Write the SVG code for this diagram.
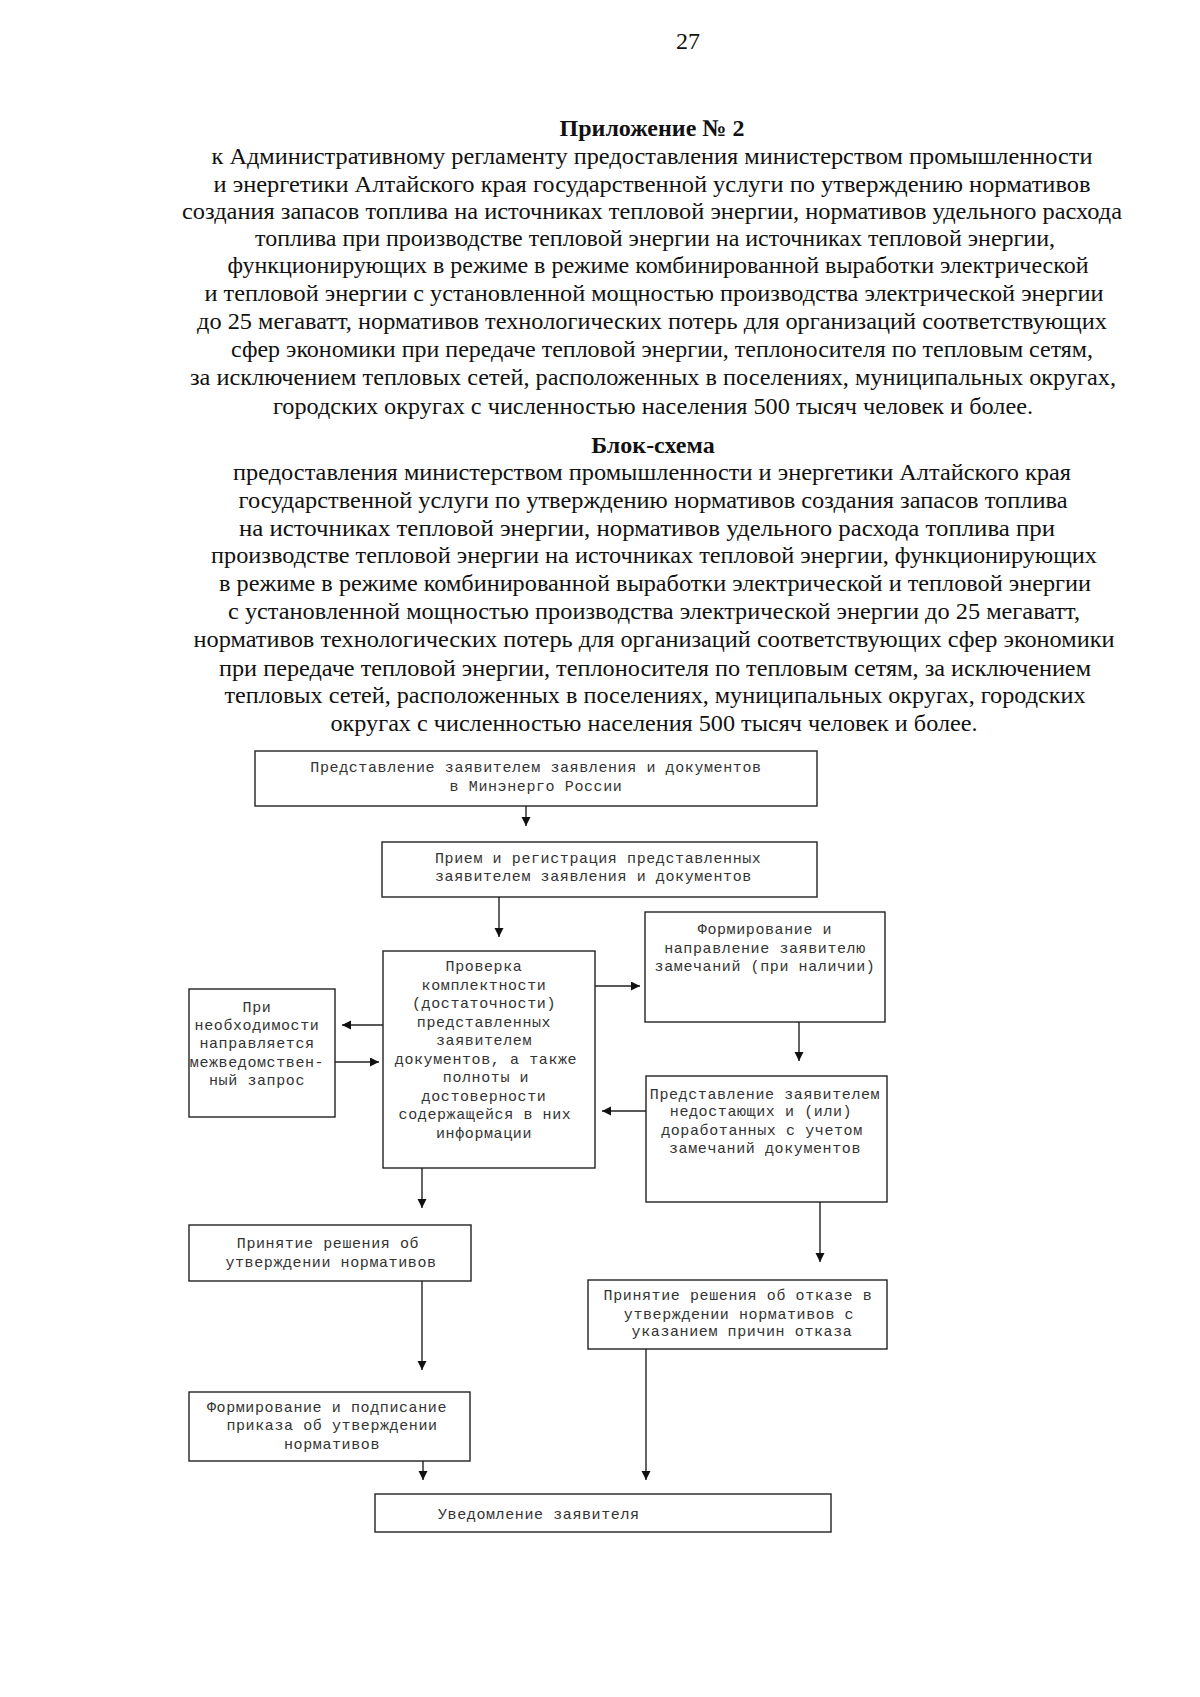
<svg xmlns="http://www.w3.org/2000/svg" width="1200" height="1697" viewBox="0 0 1200 1697">
<style>
.hd{font-family:"Liberation Serif","Times New Roman",serif;font-size:24px;fill:#111;text-anchor:middle}
.b{font-weight:bold}
.box{fill:#fff;stroke:#222;stroke-width:1.4}
.t{font-family:"Liberation Mono","Courier New",monospace;font-size:15px;letter-spacing:0.6px;fill:#333}
.c{text-anchor:middle}
.ln{stroke:#222;stroke-width:1.4;fill:none}
</style>
<defs>
<marker id="arr" markerUnits="userSpaceOnUse" markerWidth="10" markerHeight="10" refX="9" refY="4.5" orient="auto">
<path d="M0,0 L9,4.5 L0,9 Z" fill="#111"/>
</marker>
</defs>
<rect width="1200" height="1697" fill="#fff"/>
<g id="header">
<text class="hd" x="688" y="49">27</text>
<text class="hd b" x="652" y="136">Приложение № 2</text>
<text class="hd" x="652" y="164" textLength="881" lengthAdjust="spacingAndGlyphs">к Административному регламенту предоставления министерством промышленности</text>
<text class="hd" x="652" y="192" textLength="877" lengthAdjust="spacingAndGlyphs">и энергетики Алтайского края государственной услуги по утверждению нормативов</text>
<text class="hd" x="652" y="219" textLength="940" lengthAdjust="spacingAndGlyphs">создания запасов топлива на источниках тепловой энергии, нормативов удельного расхода</text>
<text class="hd" x="655" y="246" textLength="800" lengthAdjust="spacingAndGlyphs">топлива при производстве тепловой энергии на источниках тепловой энергии,</text>
<text class="hd" x="658" y="273" textLength="861" lengthAdjust="spacingAndGlyphs">функционирующих в режиме в режиме комбинированной выработки электрической</text>
<text class="hd" x="654" y="301" textLength="899" lengthAdjust="spacingAndGlyphs">и тепловой энергии с установленной мощностью производства электрической энергии</text>
<text class="hd" x="652" y="329" textLength="910" lengthAdjust="spacingAndGlyphs">до 25 мегаватт, нормативов технологических потерь для организаций соответствующих</text>
<text class="hd" x="662" y="357" textLength="862" lengthAdjust="spacingAndGlyphs">сфер экономики при передаче тепловой энергии, теплоносителя по тепловым сетям,</text>
<text class="hd" x="653" y="385" textLength="926" lengthAdjust="spacingAndGlyphs">за исключением тепловых сетей, расположенных в поселениях, муниципальных округах,</text>
<text class="hd" x="653" y="414" textLength="760" lengthAdjust="spacingAndGlyphs">городских округах с численностью населения 500 тысяч человек и более.</text>
<text class="hd b" x="653" y="453">Блок-схема</text>
<text class="hd" x="652" y="480" textLength="838" lengthAdjust="spacingAndGlyphs">предоставления министерством промышленности и энергетики Алтайского края</text>
<text class="hd" x="653" y="508" textLength="829" lengthAdjust="spacingAndGlyphs">государственной услуги по утверждению нормативов создания запасов топлива</text>
<text class="hd" x="647" y="536" textLength="816" lengthAdjust="spacingAndGlyphs">на источниках тепловой энергии, нормативов удельного расхода топлива при</text>
<text class="hd" x="654" y="563" textLength="886" lengthAdjust="spacingAndGlyphs">производстве тепловой энергии на источниках тепловой энергии, функционирующих</text>
<text class="hd" x="655" y="591" textLength="872" lengthAdjust="spacingAndGlyphs">в режиме в режиме комбинированной выработки электрической и тепловой энергии</text>
<text class="hd" x="654" y="619" textLength="852" lengthAdjust="spacingAndGlyphs">с установленной мощностью производства электрической энергии до 25 мегаватт,</text>
<text class="hd" x="654" y="647" textLength="921" lengthAdjust="spacingAndGlyphs">нормативов технологических потерь для организаций соответствующих сфер экономики</text>
<text class="hd" x="655" y="676" textLength="872" lengthAdjust="spacingAndGlyphs">при передаче тепловой энергии, теплоносителя по тепловым сетям, за исключением</text>
<text class="hd" x="655" y="703" textLength="861" lengthAdjust="spacingAndGlyphs">тепловых сетей, расположенных в поселениях, муниципальных округах, городских</text>
<text class="hd" x="654" y="731" textLength="647" lengthAdjust="spacingAndGlyphs">округах с численностью населения 500 тысяч человек и более.</text>
</g>
<g id="connectors">
<line class="ln" x1="526" y1="806" x2="526" y2="826" marker-end="url(#arr)"/>
<line class="ln" x1="499" y1="897" x2="499" y2="937" marker-end="url(#arr)"/>
<line class="ln" x1="383" y1="1025" x2="342" y2="1025" marker-end="url(#arr)"/>
<line class="ln" x1="335" y1="1062" x2="379" y2="1062" marker-end="url(#arr)"/>
<line class="ln" x1="595" y1="986" x2="640" y2="986" marker-end="url(#arr)"/>
<line class="ln" x1="799" y1="1022" x2="799" y2="1061" marker-end="url(#arr)"/>
<line class="ln" x1="646" y1="1111" x2="602" y2="1111" marker-end="url(#arr)"/>
<line class="ln" x1="422" y1="1168" x2="422" y2="1208" marker-end="url(#arr)"/>
<line class="ln" x1="820" y1="1202" x2="820" y2="1262" marker-end="url(#arr)"/>
<line class="ln" x1="422" y1="1281" x2="422" y2="1370" marker-end="url(#arr)"/>
<line class="ln" x1="423" y1="1461" x2="423" y2="1480" marker-end="url(#arr)"/>
<line class="ln" x1="646" y1="1349" x2="646" y2="1480" marker-end="url(#arr)"/>
</g>
<g id="n1">
<rect class="box" x="255" y="751" width="562" height="55"/>
<text class="t c" x="536" y="772">Представление заявителем заявления и документов</text>
<text class="t c" x="536" y="791">в Минэнерго России</text>
</g>
<g id="n2">
<rect class="box" x="382" y="842" width="435" height="55"/>
<text class="t" x="435" y="863">Прием и регистрация представленных</text>
<text class="t" x="435" y="881">заявителем заявления и документов</text>
</g>
<g id="n3">
<rect class="box" x="383" y="951" width="212" height="217"/>
<text class="t c" x="484" y="971">Проверка</text>
<text class="t c" x="484" y="989.5">комплектности</text>
<text class="t c" x="484" y="1008">(достаточности)</text>
<text class="t c" x="484" y="1026.5">представленных</text>
<text class="t c" x="484" y="1045">заявителем</text>
<text class="t c" x="486" y="1063.5">документов, а также</text>
<text class="t c" x="486" y="1082">полноты и</text>
<text class="t c" x="484" y="1100.5">достоверности</text>
<text class="t c" x="485" y="1119">содержащейся в них</text>
<text class="t c" x="484" y="1137.5">информации</text>
</g>
<g id="n4">
<rect class="box" x="189" y="989" width="146" height="128"/>
<text class="t c" x="257" y="1012">При</text>
<text class="t c" x="257" y="1030">необходимости</text>
<text class="t c" x="257" y="1048">направляется</text>
<text class="t c" x="257" y="1066.5">межведомствен-</text>
<text class="t c" x="257" y="1085">ный запрос</text>
</g>
<g id="n5">
<rect class="box" x="645" y="912" width="240" height="110"/>
<text class="t c" x="765" y="934">Формирование и</text>
<text class="t c" x="765" y="952.5">направление заявителю</text>
<text class="t c" x="765" y="971">замечаний (при наличии)</text>
</g>
<g id="n6">
<rect class="box" x="646" y="1076" width="241" height="126"/>
<text class="t c" x="765" y="1099">Представление заявителем</text>
<text class="t c" x="761" y="1116">недостающих и (или)</text>
<text class="t c" x="762" y="1134.5">доработанных с учетом</text>
<text class="t c" x="765" y="1153">замечаний документов</text>
</g>
<g id="n7">
<rect class="box" x="189" y="1225" width="282" height="56"/>
<text class="t c" x="328" y="1248">Принятие решения об</text>
<text class="t c" x="331" y="1266.5">утверждении нормативов</text>
</g>
<g id="n8">
<rect class="box" x="588" y="1280" width="299" height="69"/>
<text class="t c" x="738" y="1300">Принятие решения об отказе в</text>
<text class="t c" x="739" y="1318.5">утверждении нормативов с</text>
<text class="t c" x="742" y="1336">указанием причин отказа</text>
</g>
<g id="n9">
<rect class="box" x="189" y="1392" width="281" height="69"/>
<text class="t c" x="327" y="1411.5">Формирование и подписание</text>
<text class="t c" x="332" y="1430">приказа об утверждении</text>
<text class="t c" x="332" y="1448.5">нормативов</text>
</g>
<g id="n10">
<rect class="box" x="375" y="1494" width="456" height="38"/>
<text class="t" x="438" y="1519">Уведомление заявителя</text>
</g>
</svg>
